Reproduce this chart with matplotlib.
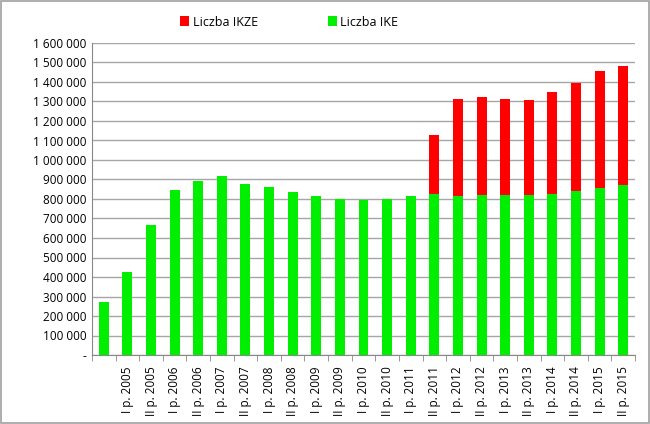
import matplotlib.pyplot as plt
from matplotlib.ticker import FuncFormatter, FixedLocator
from matplotlib.patches import Rectangle

labels = ['', 'I p. 2005', 'II p. 2005', 'I p. 2006', 'II p. 2006', 'I p. 2007', 'II p. 2007',
          'I p. 2008', 'II p. 2008', 'I p. 2009', 'II p. 2009', 'I p. 2010', 'II p. 2010',
          'I p. 2011', 'II p. 2011', 'I p. 2012', 'II p. 2012', 'I p. 2013', 'II p. 2013',
          'I p. 2014', 'II p. 2014', 'I p. 2015', 'II p. 2015']
ike = [270000, 426000, 668000, 845000, 890000, 919000, 876000, 859000, 838000, 814000,
       800000, 795000, 800000, 817000, 827000, 815000, 820000, 820000, 820000, 827000,
       840000, 857000, 870000]
total = [270000, 426000, 668000, 845000, 890000, 919000, 876000, 859000, 838000, 814000,
         800000, 795000, 800000, 817000, 1126000, 1312000, 1322000, 1312000, 1310000, 1351000,
         1393000, 1454000, 1481000]
ikze = [t - i for t, i in zip(total, ike)]

plt.rcParams['font.family'] = ['Open Sans', 'DejaVu Sans']

fig = plt.figure(figsize=(6.5, 4.24), dpi=100)
fig.patches.append(Rectangle((0.002, 0.002), 0.996, 0.996, transform=fig.transFigure,
                             fill=False, edgecolor='#a0a0a0', linewidth=1.2))
ax = fig.add_axes([92 / 650, 1 - 355 / 424, (635 - 92) / 650, (355 - 43) / 424])

x = list(range(len(labels)))
ax.bar(x, ike, width=0.42, color='#00ee00', label='Liczba IKE', zorder=3)
ax.bar(x, ikze, bottom=ike, width=0.42, color='#ff0000', label='Liczba IKZE', zorder=3)

ax.set_xlim(-0.5, len(labels) - 0.5)
ax.set_ylim(0, 1600000)
ax.set_yticks(range(0, 1600001, 100000))
ax.yaxis.set_major_formatter(FuncFormatter(
    lambda v, p: '-' if v == 0 else f'{int(v):,}'.replace(',', ' ')))
ax.grid(axis='y', color='#a6a6a6', linewidth=1, zorder=0)
ax.tick_params(axis='y', length=0, labelsize=8.5, pad=4)

ax.set_xticks(x)
ax.set_xticklabels(labels, rotation=90, fontsize=8.5)
ax.tick_params(axis='x', which='major', length=0, pad=8)
ax.xaxis.set_minor_locator(FixedLocator([i - 0.5 for i in range(len(labels) + 1)]))
ax.tick_params(axis='x', which='minor', length=4, color='#888888')

for s in ['top', 'right']:
    ax.spines[s].set_visible(False)
for s in ['left', 'bottom']:
    ax.spines[s].set_color('#888888')

h, l = ax.get_legend_handles_labels()
fig.legend(h[::-1], l[::-1], loc='center', bbox_to_anchor=(0.445, 1 - 22 / 424), ncol=2,
           frameon=False, fontsize=9, handlelength=0.7, handleheight=0.9,
           handletextpad=0.3, columnspacing=5.6)

fig.savefig('out.png', dpi=100)
